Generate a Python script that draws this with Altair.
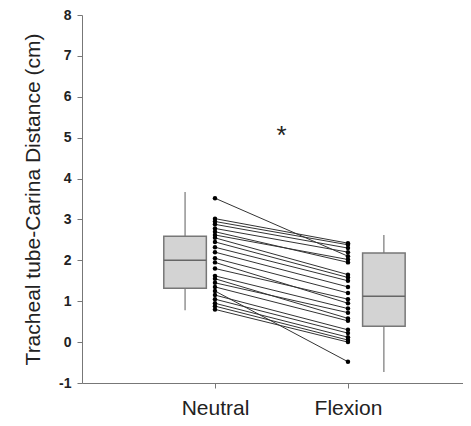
import altair as alt
import pandas as pd

# ---- data ----
categories = ["Neutral", "Flexion"]
category_pos = [1, 2]

neutral = [3.52, 3.02, 2.95, 2.88, 2.78, 2.70, 2.62, 2.55, 2.45, 2.32, 2.20, 2.05,
           1.95, 1.80, 1.62, 1.55, 1.45, 1.35, 1.25, 1.15, 1.05, 0.95, 0.88, 0.80]
flexion = [2.10, 2.42, 2.38, 2.30, 2.20, 1.95, 2.02, 1.65, 1.58, 1.50, 1.35, 1.20,
           0.95, 1.05, 0.82, 0.58, 0.72, 0.52, -0.48, 0.30, 0.22, 0.12, 0.05, 0.00]

box_center = [0.775, 2.27]
whisker_low = [0.78, -0.73]
q1 = [1.32, 0.39]
median = [2.00, 1.12]
q3 = [2.59, 2.18]
whisker_high = [3.67, 2.62]

star_x = [1.5]
star_y = [5.03]
star_text = ["*"]

# ---- tables ----
rows = []
for i, (a, b) in enumerate(zip(neutral, flexion)):
    rows.append({"pid": i, "x": category_pos[0], "v": a})
    rows.append({"pid": i, "x": category_pos[1], "v": b})
pairs = pd.DataFrame(rows)

half = 0.16
boxes = pd.DataFrame({
    "c": box_center,
    "lo": [c - half for c in box_center],
    "hi": [c + half for c in box_center],
    "wl": whisker_low, "q1": q1, "med": median, "q3": q3, "wh": whisker_high,
})
star = pd.DataFrame({"x": star_x, "y": star_y, "t": star_text})

FONT = "Liberation Sans"
xscale = alt.Scale(domain=[0, 2.865], nice=False, zero=False)
yscale = alt.Scale(domain=[-1, 8], nice=False, zero=False)

xaxis = alt.Axis(
    values=category_pos, title=None, grid=False,
    labelExpr="datum.value == 1 ? '" + categories[0] + "' : '" + categories[1] + "'",
    labelFont=FONT, labelFontSize=21, labelColor="#222222", labelPadding=9,
    tickSize=5, tickColor="#777777", domainColor="#777777", labelFlush=False,
)
yaxis = alt.Axis(
    values=list(range(-1, 9)), title="Tracheal tube-Carina Distance (cm)", grid=False,
    labelExpr="datum.value < 0 ? '-' + abs(datum.value) : '' + datum.value",
    labelFont=FONT, labelFontSize=14, labelFontWeight="bold", labelColor="#222222",
    labelPadding=6, tickSize=5, tickColor="#777777", domainColor="#777777",
    titleFont=FONT, titleFontSize=21, titleFontWeight="normal", titleColor="#222222",
    titlePadding=15,
)

lines = alt.Chart(pairs).mark_line(color="#333333", strokeWidth=1).encode(
    x=alt.X("x:Q", scale=xscale, axis=xaxis),
    y=alt.Y("v:Q", scale=yscale, axis=yaxis),
    detail="pid:N",
)
points = alt.Chart(pairs).mark_circle(color="black", size=20, opacity=1).encode(
    x=alt.X("x:Q", scale=xscale, axis=xaxis),
    y=alt.Y("v:Q", scale=yscale, axis=yaxis),
)
whisk = alt.Chart(boxes).mark_rule(color="#777777", strokeWidth=1.2).encode(
    x=alt.X("c:Q", scale=xscale, axis=xaxis),
    y=alt.Y("wl:Q", scale=yscale, axis=yaxis),
    y2="wh:Q",
)
rect = alt.Chart(boxes).mark_rect(fill="#d3d3d3", stroke="#777777", strokeWidth=1.5).encode(
    x=alt.X("lo:Q", scale=xscale, axis=xaxis),
    x2="hi:Q",
    y=alt.Y("q1:Q", scale=yscale, axis=yaxis),
    y2="q3:Q",
)
med = alt.Chart(boxes).mark_rule(color="#666666", strokeWidth=1.5).encode(
    x=alt.X("lo:Q", scale=xscale, axis=xaxis),
    x2="hi:Q",
    y=alt.Y("med:Q", scale=yscale, axis=yaxis),
)
stars = alt.Chart(star).mark_text(font=FONT, fontSize=26, color="#222222", baseline="middle").encode(
    x=alt.X("x:Q", scale=xscale, axis=xaxis),
    y=alt.Y("y:Q", scale=yscale, axis=yaxis),
    text="t:N",
)

chart = alt.layer(whisk, rect, med, lines, points, stars).properties(
    width=381, height=368,
    autosize=alt.AutoSizeParams(type="none"),
    padding={"left": 74, "top": 7, "right": 0, "bottom": 35},
    background="white",
).configure_view(stroke=None)

chart.save("out.html", embed_options={"renderer": "svg", "actions": False})
